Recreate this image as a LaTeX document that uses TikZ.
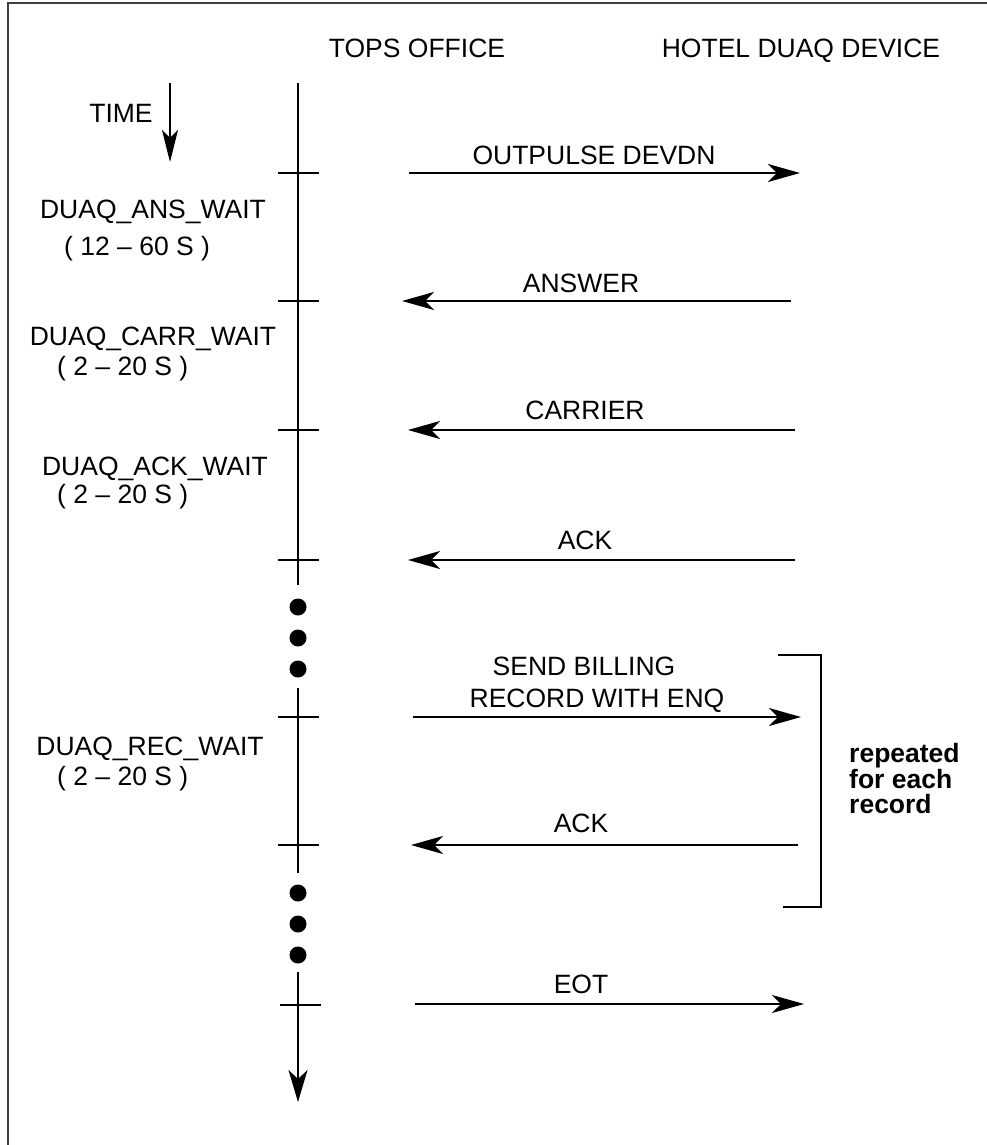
\documentclass[tikz,border=0pt]{standalone}
\usepackage{fontspec}
\setmainfont{Liberation Sans}
\usepackage{tikz}
\usetikzlibrary{arrows.meta}

\begin{document}
\begin{tikzpicture}[x=1pt,y=-1pt,
		lbl/.style={anchor=base,inner sep=0pt,font=\fontsize{26.5}{30}\selectfont},
		msg/.style={line width=1.8pt,-{Stealth[length=32pt,width=18pt,inset=9pt]}},
		life/.style={line width=1.8pt}]
		\useasboundingbox (0,0) rectangle (987,1145);
		\draw[line width=1.4pt,black!75] (987,3) -- (8,3) -- (8,1145);
		% column heads
		\node[lbl] (tops) at (417,58) {TOPS OFFICE};
		\node[lbl] (hotel) at (801,58) {HOTEL DUAQ DEVICE};
		% time arrow
		\coordinate (ttop) at (170,83);
		\coordinate (tend) at (170,162);
		\draw[line width=1.8pt,-{Stealth[length=32pt,width=16pt,inset=8pt]}] (ttop) -- (tend);
		\node[lbl] (time) at (121,122) {TIME};
		% life line of the office
		\coordinate (l0) at (298,83);
		\coordinate (l1) at (298,585);
		\coordinate (l2) at (298,688);
		\coordinate (l3) at (298,873);
		\coordinate (l4) at (298,972);
		\coordinate (l5) at (298,1102);
		\draw[life] (l0) -- (l1);
		\draw[life] (l2) -- (l3);
		\draw[life,-{Stealth[length=32pt,width=19pt,inset=9pt]}] (l4) -- (l5);
		\fill (298,607) circle (8.5pt);
		\fill (298,638) circle (8.5pt);
		\fill (298,669) circle (8.5pt);
		\fill (298,893) circle (8.5pt);
		\fill (298,924) circle (8.5pt);
		\fill (298,955) circle (8.5pt);
		\draw[life] (278,173) -- (319,173);
		\draw[life] (278,301) -- (319,301);
		\draw[life] (278,430) -- (319,430);
		\draw[life] (278,560) -- (319,560);
		\draw[life] (278,717) -- (319,717);
		\draw[life] (278,845) -- (319,845);
		\draw[life] (280,1005) -- (321,1005);
		% timers
		\node[lbl] (answait) at (153,218) {DUAQ\_ANS\_WAIT};
		\node[lbl,anchor=base west] (anst) at (64,255) {( 12 -- 60 S )};
		\node[lbl] (carrwait) at (153,345) {DUAQ\_CARR\_WAIT};
		\node[lbl,anchor=base west] (carrt) at (57,375) {( 2 -- 20 S )};
		\node[lbl] (ackwait) at (155,475) {DUAQ\_ACK\_WAIT};
		\node[lbl,anchor=base west] (ackt) at (57,503) {( 2 -- 20 S )};
		\node[lbl] (recwait) at (150,755) {DUAQ\_REC\_WAIT};
		\node[lbl,anchor=base west] (rect) at (57,785) {( 2 -- 20 S )};
		% messages
		\coordinate (o1) at (409,173);
		\coordinate (d1) at (800,173);
		\draw[msg] (o1) -- (d1);
		\node[lbl] (outpulse) at (594,164) {OUTPULSE DEVDN};
		\coordinate (o2) at (402,301);
		\coordinate (d2) at (791,301);
		\draw[msg] (d2) -- (o2);
		\node[lbl] (answer) at (581,292) {ANSWER};
		\coordinate (o3) at (408,430);
		\coordinate (d3) at (795,430);
		\draw[msg] (d3) -- (o3);
		\node[lbl] (carrier) at (585,419) {CARRIER};
		\coordinate (o4) at (408,560);
		\coordinate (d4) at (795,560);
		\draw[msg] (d4) -- (o4);
		\node[lbl] (ack) at (585,549) {ACK};
		\coordinate (o5) at (413,717);
		\coordinate (d5) at (801,717);
		\draw[msg] (o5) -- (d5);
		\node[lbl] (send) at (584,675) {SEND BILLING};
		\node[lbl] (record) at (597,707) {RECORD WITH ENQ};
		\coordinate (o6) at (411,845);
		\coordinate (d6) at (798,845);
		\draw[msg] (d6) -- (o6);
		\node[lbl] (ackrec) at (581,832) {ACK};
		\coordinate (o7) at (415,1004);
		\coordinate (d7) at (804,1004);
		\draw[msg] (o7) -- (d7);
		\node[lbl] (eot) at (581,993) {EOT};
		% bracket for the repeated part
		\coordinate (b1) at (778,655);
		\coordinate (b2) at (821,655);
		\coordinate (b3) at (821,907);
		\coordinate (b4) at (783,907);
		\draw[line width=1.8pt] (b1) -- (b2) -- (b3) -- (b4);
		\node[anchor=base west,inner sep=0pt,align=left,font=\fontsize{26.5}{24.5}\selectfont\bfseries] (repeat) at (849,813) {repeated\\for each\\record};
	\end{tikzpicture}
\end{document}
